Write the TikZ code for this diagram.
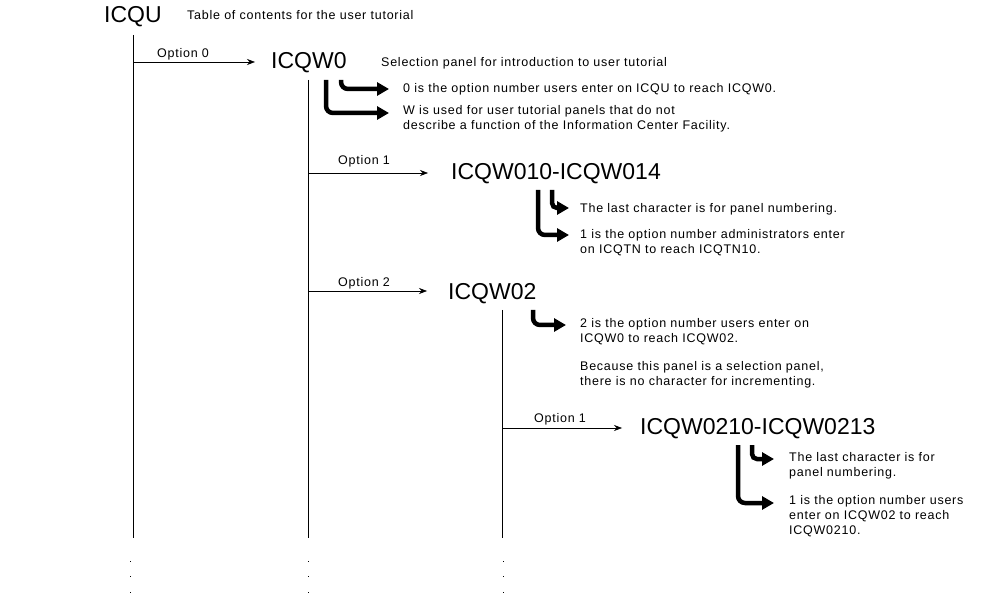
\documentclass[tikz,border=0pt]{standalone}
\usepackage{fontspec}
\setmainfont{Liberation Sans}
\usetikzlibrary{arrows.meta}
\begin{document}
\begin{tikzpicture}[x=1pt,y=-1pt,
  big/.style={anchor=west,inner sep=0pt,font=\fontsize{23}{24}\selectfont},
  txt/.style={anchor=west,inner sep=0pt,align=left,font=\fontsize{12.5}{15}\selectfont\addfontfeature{LetterSpace=6}},
  opt/.style={anchor=south west,inner sep=0pt,font=\fontsize{12.5}{14}\selectfont\addfontfeature{LetterSpace=6}},
  line/.style={line width=0.6pt},
  conn/.style={line width=0.6pt,-{Stealth[length=8pt,width=6pt]}},
  bent/.style={line width=4.5pt,rounded corners=7pt,-{Triangle[length=12pt,width=13pt]}},
  dot/.style={fill=black,inner sep=0pt,minimum size=1pt}]
\useasboundingbox (0,0) rectangle (998,601);
% level 0
\node[big] (icqu) at (104,17) {ICQU};
\node[txt] (t0) at (187,15) {Table of contents for the user tutorial};
\coordinate (v0t) at (133,35); \coordinate (v0b) at (133,538);
\draw[line] (v0t) -- (v0b);
\coordinate (o0s) at (133,62); \coordinate (o0e) at (255,62);
\draw[conn] (o0s) -- (o0e);
\node[opt] (o0) at (157,60) {Option 0};
% level 1
\node[big] (w0) at (271,63) {ICQW0};
\node[txt] (t1) at (381,63) {Selection panel for introduction to user tutorial};
\node[txt] (t1a) at (403,89) {0 is the option number users enter on ICQU to reach ICQW0.};
\node[txt] (t1b) at (403,119) {W is used for user tutorial panels that do not\\describe a function of the Information Center Facility.};
\coordinate (b1as) at (341,80); \coordinate (b1ae) at (389,89);
\draw[bent] (b1as) |- (b1ae);
\coordinate (b1bs) at (326,80); \coordinate (b1be) at (389,113);
\draw[bent] (b1bs) |- (b1be);
\coordinate (v1t) at (308,80); \coordinate (v1b) at (308,538);
\draw[line] (v1t) -- (v1b);
\coordinate (o1s) at (308,173); \coordinate (o1e) at (428,173);
\draw[conn] (o1s) -- (o1e);
\node[opt] (o1) at (338,167) {Option 1};
\coordinate (o2s) at (308,291); \coordinate (o2e) at (427,291);
\draw[conn] (o2s) -- (o2e);
\node[opt] (o2) at (338,289) {Option 2};
% ICQW010
\node[big] (w010) at (451,174) {ICQW010-ICQW014};
\coordinate (b2as) at (552,190); \coordinate (b2ae) at (569,208);
\draw[bent,rounded corners=5pt] (b2as) |- (b2ae);
\coordinate (b2bs) at (538,190); \coordinate (b2be) at (569,235);
\draw[bent] (b2bs) |- (b2be);
\node[txt] (t2a) at (580,209) {The last character is for panel numbering.};
\node[txt] (t2b) at (580,243) {1 is the option number administrators enter\\on ICQTN to reach ICQTN10.};
% ICQW02
\node[big] (w02) at (448,294) {ICQW02};
\coordinate (b3s) at (533,310); \coordinate (b3e) at (566,325);
\draw[bent] (b3s) |- (b3e);
\node[txt] (t3a) at (580,332) {2 is the option number users enter on\\ICQW0 to reach ICQW02.};
\node[txt] (t3b) at (580,375) {Because this panel is a selection panel,\\there is no character for incrementing.};
\coordinate (v2t) at (502,310); \coordinate (v2b) at (502,538);
\draw[line] (v2t) -- (v2b);
\coordinate (o3s) at (502,428); \coordinate (o3e) at (622,428);
\draw[conn] (o3s) -- (o3e);
\node[opt] (o3) at (534,425) {Option 1};
% ICQW0210
\node[big] (w0210) at (640,429) {ICQW0210-ICQW0213};
\coordinate (b4as) at (752,445); \coordinate (b4ae) at (774,459);
\draw[bent,rounded corners=5pt] (b4as) |- (b4ae);
\coordinate (b4bs) at (738,445); \coordinate (b4be) at (774,503);
\draw[bent] (b4bs) |- (b4be);
\node[txt] (t4a) at (789,466) {The last character is for\\panel numbering.};
\node[txt] (t4b) at (789,516) {1 is the option number users\\enter on ICQW02 to reach\\ICQW0210.};
% dots
\foreach \x/\n in {130/a,308/b,503/c}{
  \foreach \y/\m in {561/1,576/2,592/3}{
    \node[dot] (d\n\m) at (\x,\y) {};
  }
}
\end{tikzpicture}
\end{document}
